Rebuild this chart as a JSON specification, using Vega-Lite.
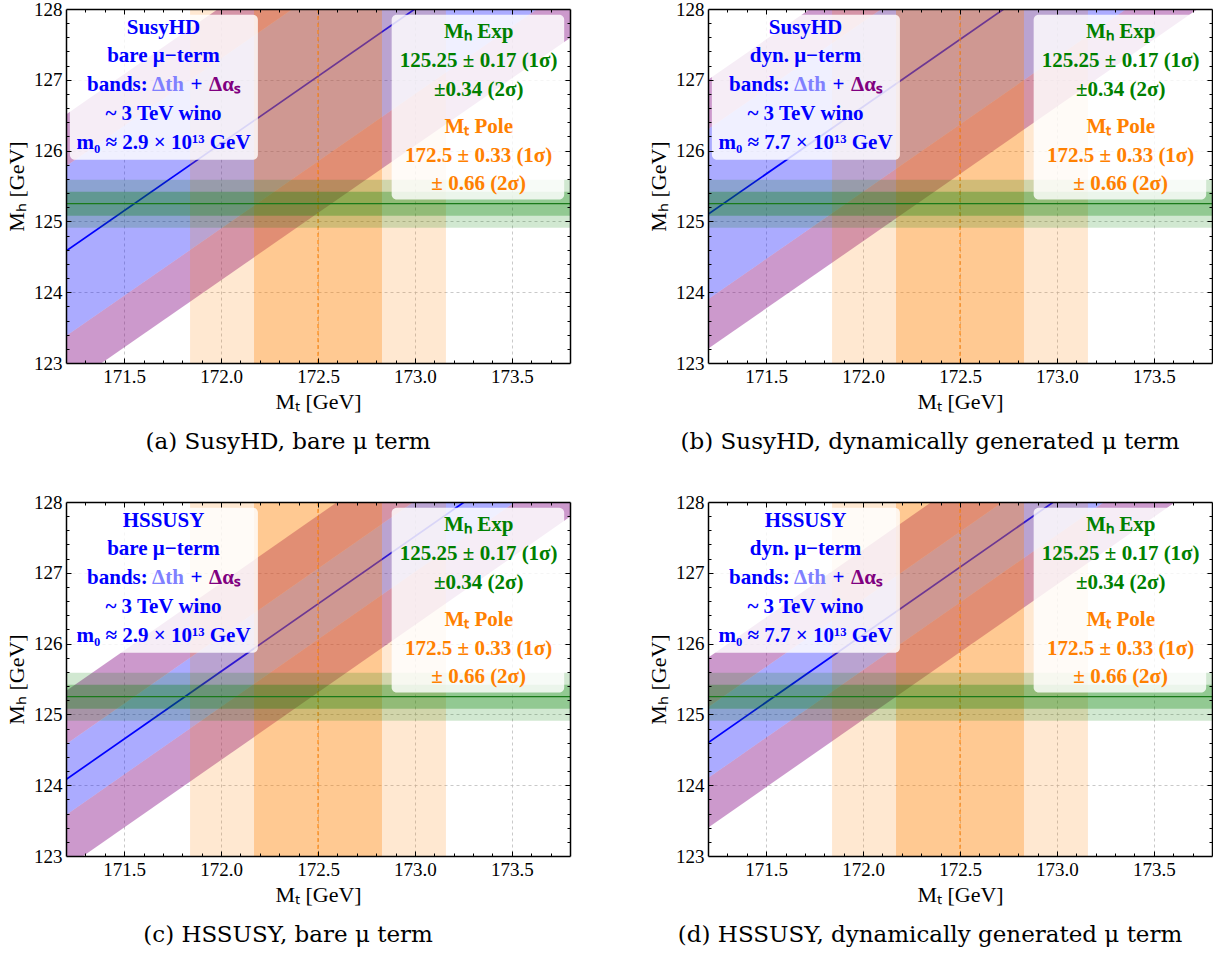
{
"$schema": "https://vega.github.io/schema/vega-lite/v6.json",
"background": "white",
"padding": {"left": 5, "top": 0, "right": 0, "bottom": 0},
"columns": 2,
"bounds": "flush",
"spacing": {"row": 139, "column": 138},
"datasets": {
"bands": [
{"panel": "a", "x": 171.2, "c": 124.58, "lop": 122.65, "lob": 123.38, "hib": 125.78, "hip": 126.51},
{"panel": "a", "x": 173.8, "c": 129.52, "lop": 127.59, "lob": 128.32, "hib": 130.72, "hip": 131.45},
{"panel": "b", "x": 171.2, "c": 125.10, "lop": 123.20, "lob": 123.90, "hib": 126.30, "hip": 127.00},
{"panel": "b", "x": 173.8, "c": 130.04, "lop": 128.14, "lob": 128.84, "hib": 131.24, "hip": 131.94},
{"panel": "c", "x": 171.2, "c": 124.08, "lop": 122.83, "lob": 123.58, "hib": 124.58, "hip": 125.33},
{"panel": "c", "x": 173.8, "c": 129.04, "lop": 127.79, "lob": 128.54, "hib": 129.54, "hip": 130.29},
{"panel": "d", "x": 171.2, "c": 124.60, "lop": 123.40, "lob": 124.10, "hib": 125.10, "hip": 125.80},
{"panel": "d", "x": 173.8, "c": 129.56, "lop": 128.36, "lob": 129.06, "hib": 130.06, "hip": 130.76}
],
"mt": [{"sigma": "2σ", "lo": 171.84, "hi": 173.16}, {"sigma": "1σ", "lo": 172.17, "hi": 172.83}],
"mh": [{"sigma": "2σ", "lo": 124.91, "hi": 125.59}, {"sigma": "1σ", "lo": 125.08, "hi": 125.42}],
"center": [{"mt": 172.5, "mh": 125.25}],
"boxes": [{"x": 171.22, "x2": 172.19, "y": 125.87, "y2": 127.92}, {"x": 172.88, "x2": 173.77, "y": 125.31, "y2": 127.92}],
"rtext": [
{"x": 171.465, "y": 126.93, "t": "bands:", "role": "model"},
{"x": 171.726, "y": 126.93, "t": "Δth", "role": "th"},
{"x": 171.873, "y": 126.93, "t": "+", "role": "model"},
{"x": 172.02, "y": 126.93, "t": "Δαₛ", "role": "as"},
{"x": 171.703, "y": 126.52, "t": "~ 3 TeV wino", "role": "model"},
{"x": 173.329, "y": 127.67, "t": "Mₕ Exp", "role": "exp"},
{"x": 173.329, "y": 127.27, "t": "125.25 ± 0.17 (1σ)", "role": "exp"},
{"x": 173.329, "y": 126.86, "t": "±0.34 (2σ)", "role": "exp"},
{"x": 173.329, "y": 126.34, "t": "Mₜ Pole", "role": "pole"},
{"x": 173.329, "y": 125.93, "t": "172.5 ± 0.33 (1σ)", "role": "pole"},
{"x": 173.329, "y": 125.53, "t": "± 0.66 (2σ)", "role": "pole"}
],
"ltext": [
{"panel": "a", "x": 171.703, "y": 127.73, "t": "SusyHD", "role": "model"},
{"panel": "a", "x": 171.703, "y": 127.33, "t": "bare μ−term", "role": "model"},
{"panel": "a", "x": 171.703, "y": 126.11, "t": "m₀ ≈ 2.9 × 10¹³ GeV", "role": "model"},
{"panel": "b", "x": 171.703, "y": 127.73, "t": "SusyHD", "role": "model"},
{"panel": "b", "x": 171.703, "y": 127.33, "t": "dyn. μ−term", "role": "model"},
{"panel": "b", "x": 171.703, "y": 126.11, "t": "m₀ ≈ 7.7 × 10¹³ GeV", "role": "model"},
{"panel": "c", "x": 171.703, "y": 127.73, "t": "HSSUSY", "role": "model"},
{"panel": "c", "x": 171.703, "y": 127.33, "t": "bare μ−term", "role": "model"},
{"panel": "c", "x": 171.703, "y": 126.11, "t": "m₀ ≈ 2.9 × 10¹³ GeV", "role": "model"},
{"panel": "d", "x": 171.703, "y": 127.73, "t": "HSSUSY", "role": "model"},
{"panel": "d", "x": 171.703, "y": 127.33, "t": "dyn. μ−term", "role": "model"},
{"panel": "d", "x": 171.703, "y": 126.11, "t": "m₀ ≈ 7.7 × 10¹³ GeV", "role": "model"}
]
},
"concat": [
{
"width": 504, "height": 354,
"title": {"text": "(a) SusyHD, bare μ term", "orient": "bottom", "anchor": "middle", "frame": "bounds", "font": "DejaVu Serif", "fontSize": 23, "fontWeight": "normal", "color": "black", "offset": 19},
"resolve": {"axis": {"x": "independent", "y": "independent"}},
"layer": [
{"data": {"name": "bands"}, "transform": [{"filter": "datum.panel === 'a'"}], "mark": {"type": "area", "color": "#800080", "opacity": 0.4, "clip": true},
"encoding": {"x": {"field": "x", "type": "quantitative", "scale": {"domain": [171.2, 173.8], "nice": false, "zero": false}, "axis": {"orient": "bottom", "values": [171.5, 172, 172.5, 173, 173.5], "grid": true, "gridDash": [3, 3], "gridColor": "#bbbbbb", "gridWidth": 0.8, "ticks": false, "labels": false, "domain": false, "title": null, "zindex": 0}},
"y": {"field": "lop", "type": "quantitative", "scale": {"domain": [123, 128], "nice": false, "zero": false}, "axis": {"orient": "left", "values": [124, 125, 126, 127], "grid": true, "gridDash": [3, 3], "gridColor": "#bbbbbb", "gridWidth": 0.8, "ticks": false, "labels": false, "domain": false, "title": null, "zindex": 0}},
"y2": {"field": "lob"}}},
{"data": {"name": "bands"}, "transform": [{"filter": "datum.panel === 'a'"}], "mark": {"type": "area", "color": "#0000ff", "opacity": 0.33, "clip": true},
"encoding": {"x": {"field": "x", "type": "quantitative", "scale": {"domain": [171.2, 173.8], "nice": false, "zero": false}, "axis": {"orient": "bottom", "values": [171.5, 172, 172.5, 173, 173.5], "format": ".1f", "grid": false, "ticks": false, "labels": true, "labelFont": "Liberation Serif", "labelFontSize": 19, "labelColor": "black", "labelPadding": 4, "labelFlush": false, "labelOverlap": false, "domain": true, "domainColor": "black", "domainWidth": 1.5, "title": "Mₜ [GeV]", "titleFont": "Liberation Serif", "titleFontSize": 22, "titleFontWeight": "normal", "titleColor": "black", "titlePadding": 5, "zindex": 2}},
"y": {"field": "lob", "type": "quantitative", "scale": {"domain": [123, 128], "nice": false, "zero": false}, "axis": {"orient": "left", "values": [123, 124, 125, 126, 127, 128], "format": "d", "grid": false, "ticks": false, "labels": true, "labelFont": "Liberation Serif", "labelFontSize": 19, "labelColor": "black", "labelPadding": 4, "labelFlush": false, "labelOverlap": false, "domain": true, "domainColor": "black", "domainWidth": 1.5, "title": "Mₕ [GeV]", "titleFont": "Liberation Serif", "titleFontSize": 22, "titleFontWeight": "normal", "titleColor": "black", "titlePadding": 5, "zindex": 2}},
"y2": {"field": "hib"}}},
{"data": {"name": "bands"}, "transform": [{"filter": "datum.panel === 'a'"}], "mark": {"type": "area", "color": "#800080", "opacity": 0.4, "clip": true},
"encoding": {"x": {"field": "x", "type": "quantitative", "scale": {"domain": [171.2, 173.8], "nice": false, "zero": false}, "axis": {"orient": "bottom", "values": [171.5, 172, 172.5, 173, 173.5], "grid": false, "ticks": true, "tickSize": -5, "tickColor": "black", "tickWidth": 1, "labels": false, "domain": false, "title": null, "zindex": 2}},
"y": {"field": "hib", "type": "quantitative", "scale": {"domain": [123, 128], "nice": false, "zero": false}, "axis": {"orient": "left", "values": [124, 125, 126, 127], "grid": false, "ticks": true, "tickSize": -5, "tickColor": "black", "tickWidth": 1, "labels": false, "domain": false, "title": null, "zindex": 2}},
"y2": {"field": "hip"}}},
{"data": {"name": "bands"}, "transform": [{"filter": "datum.panel === 'a'"}], "mark": {"type": "line", "color": "#0000ff", "strokeWidth": 1.7, "clip": true},
"encoding": {"x": {"field": "x", "type": "quantitative", "scale": {"domain": [171.2, 173.8], "nice": false, "zero": false}, "axis": {"orient": "bottom", "values": [171.3, 171.4, 171.6, 171.7, 171.8, 171.9, 172.1, 172.2, 172.3, 172.4, 172.6, 172.7, 172.8, 172.9, 173.1, 173.2, 173.3, 173.4, 173.6, 173.7], "grid": false, "ticks": true, "tickSize": -3, "tickColor": "black", "tickWidth": 1, "labels": false, "domain": false, "title": null, "zindex": 2}},
"y": {"field": "c", "type": "quantitative", "scale": {"domain": [123, 128], "nice": false, "zero": false}, "axis": {"orient": "left", "values": [123.2, 123.4, 123.6, 123.8, 124.2, 124.4, 124.6, 124.8, 125.2, 125.4, 125.6, 125.8, 126.2, 126.4, 126.6, 126.8, 127.2, 127.4, 127.6, 127.8], "grid": false, "ticks": true, "tickSize": -3, "tickColor": "black", "tickWidth": 1, "labels": false, "domain": false, "title": null, "zindex": 2}}}},
{"data": {"name": "mt"}, "mark": {"type": "rect", "color": "#ff8000"},
"encoding": {"x": {"field": "lo", "type": "quantitative", "scale": {"domain": [171.2, 173.8], "nice": false, "zero": false}, "axis": null}, "x2": {"field": "hi"}, "opacity": {"field": "sigma", "type": "ordinal", "scale": {"domain": ["1σ", "2σ"], "range": [0.3, 0.18]}, "legend": null}}},
{"data": {"name": "center"}, "mark": {"type": "rule", "color": "#ff8000", "strokeDash": [4, 3], "strokeWidth": 1},
"encoding": {"x": {"field": "mt", "type": "quantitative", "scale": {"domain": [171.2, 173.8], "nice": false, "zero": false}, "axis": null}}},
{"data": {"name": "mh"}, "mark": {"type": "rect", "color": "#008000"},
"encoding": {"y": {"field": "lo", "type": "quantitative", "scale": {"domain": [123, 128], "nice": false, "zero": false}, "axis": null}, "y2": {"field": "hi"}, "opacity": {"field": "sigma", "type": "ordinal", "scale": {"domain": ["1σ", "2σ"], "range": [0.3, 0.18]}, "legend": null}}},
{"data": {"name": "center"}, "mark": {"type": "rule", "color": "#1a7a1a", "strokeWidth": 1.3},
"encoding": {"y": {"field": "mh", "type": "quantitative", "scale": {"domain": [123, 128], "nice": false, "zero": false}, "axis": null}}},
{"data": {"name": "boxes"}, "mark": {"type": "rect", "fill": "white", "opacity": 0.82, "cornerRadius": 5},
"encoding": {"x": {"field": "x", "type": "quantitative", "scale": {"domain": [171.2, 173.8], "nice": false, "zero": false}, "axis": {"orient": "top", "values": [171.5, 172, 172.5, 173, 173.5], "grid": false, "ticks": true, "tickSize": -5, "tickColor": "black", "tickWidth": 1, "labels": false, "domain": true, "domainColor": "black", "domainWidth": 1.5, "title": null, "zindex": 2}}, "x2": {"field": "x2"},
"y": {"field": "y", "type": "quantitative", "scale": {"domain": [123, 128], "nice": false, "zero": false}, "axis": {"orient": "right", "values": [124, 125, 126, 127], "grid": false, "ticks": true, "tickSize": -5, "tickColor": "black", "tickWidth": 1, "labels": false, "domain": true, "domainColor": "black", "domainWidth": 1.5, "title": null, "zindex": 2}}, "y2": {"field": "y2"}}},
{"data": {"name": "rtext"}, "mark": {"type": "text", "font": "Liberation Serif", "fontWeight": "bold", "fontSize": 21, "baseline": "middle"},
"encoding": {"x": {"field": "x", "type": "quantitative", "scale": {"domain": [171.2, 173.8], "nice": false, "zero": false}, "axis": {"orient": "top", "values": [171.3, 171.4, 171.6, 171.7, 171.8, 171.9, 172.1, 172.2, 172.3, 172.4, 172.6, 172.7, 172.8, 172.9, 173.1, 173.2, 173.3, 173.4, 173.6, 173.7], "grid": false, "ticks": true, "tickSize": -3, "tickColor": "black", "tickWidth": 1, "labels": false, "domain": false, "title": null, "zindex": 2}},
"y": {"field": "y", "type": "quantitative", "scale": {"domain": [123, 128], "nice": false, "zero": false}, "axis": {"orient": "right", "values": [123.2, 123.4, 123.6, 123.8, 124.2, 124.4, 124.6, 124.8, 125.2, 125.4, 125.6, 125.8, 126.2, 126.4, 126.6, 126.8, 127.2, 127.4, 127.6, 127.8], "grid": false, "ticks": true, "tickSize": -3, "tickColor": "black", "tickWidth": 1, "labels": false, "domain": false, "title": null, "zindex": 2}},
"text": {"field": "t"}, "color": {"field": "role", "type": "nominal", "scale": {"domain": ["model", "th", "as", "exp", "pole"], "range": ["#0000ff", "#8080ff", "#800080", "#008000", "#ff8000"]}, "legend": null}}},
{"data": {"name": "ltext"}, "transform": [{"filter": "datum.panel === 'a'"}], "mark": {"type": "text", "font": "Liberation Serif", "fontWeight": "bold", "fontSize": 21, "baseline": "middle"},
"encoding": {"x": {"field": "x", "type": "quantitative", "scale": {"domain": [171.2, 173.8], "nice": false, "zero": false}, "axis": null}, "y": {"field": "y", "type": "quantitative", "scale": {"domain": [123, 128], "nice": false, "zero": false}, "axis": null}, "text": {"field": "t"}, "color": {"field": "role", "type": "nominal", "scale": {"domain": ["model", "th", "as", "exp", "pole"], "range": ["#0000ff", "#8080ff", "#800080", "#008000", "#ff8000"]}, "legend": null}}}
]
},
{
"width": 504, "height": 354,
"title": {"text": "(b) SusyHD, dynamically generated μ term", "orient": "bottom", "anchor": "middle", "frame": "bounds", "font": "DejaVu Serif", "fontSize": 23, "fontWeight": "normal", "color": "black", "offset": 19},
"resolve": {"axis": {"x": "independent", "y": "independent"}},
"layer": [
{"data": {"name": "bands"}, "transform": [{"filter": "datum.panel === 'b'"}], "mark": {"type": "area", "color": "#800080", "opacity": 0.4, "clip": true},
"encoding": {"x": {"field": "x", "type": "quantitative", "scale": {"domain": [171.2, 173.8], "nice": false, "zero": false}, "axis": {"orient": "bottom", "values": [171.5, 172, 172.5, 173, 173.5], "grid": true, "gridDash": [3, 3], "gridColor": "#bbbbbb", "gridWidth": 0.8, "ticks": false, "labels": false, "domain": false, "title": null, "zindex": 0}},
"y": {"field": "lop", "type": "quantitative", "scale": {"domain": [123, 128], "nice": false, "zero": false}, "axis": {"orient": "left", "values": [124, 125, 126, 127], "grid": true, "gridDash": [3, 3], "gridColor": "#bbbbbb", "gridWidth": 0.8, "ticks": false, "labels": false, "domain": false, "title": null, "zindex": 0}},
"y2": {"field": "lob"}}},
{"data": {"name": "bands"}, "transform": [{"filter": "datum.panel === 'b'"}], "mark": {"type": "area", "color": "#0000ff", "opacity": 0.33, "clip": true},
"encoding": {"x": {"field": "x", "type": "quantitative", "scale": {"domain": [171.2, 173.8], "nice": false, "zero": false}, "axis": {"orient": "bottom", "values": [171.5, 172, 172.5, 173, 173.5], "format": ".1f", "grid": false, "ticks": false, "labels": true, "labelFont": "Liberation Serif", "labelFontSize": 19, "labelColor": "black", "labelPadding": 4, "labelFlush": false, "labelOverlap": false, "domain": true, "domainColor": "black", "domainWidth": 1.5, "title": "Mₜ [GeV]", "titleFont": "Liberation Serif", "titleFontSize": 22, "titleFontWeight": "normal", "titleColor": "black", "titlePadding": 5, "zindex": 2}},
"y": {"field": "lob", "type": "quantitative", "scale": {"domain": [123, 128], "nice": false, "zero": false}, "axis": {"orient": "left", "values": [123, 124, 125, 126, 127, 128], "format": "d", "grid": false, "ticks": false, "labels": true, "labelFont": "Liberation Serif", "labelFontSize": 19, "labelColor": "black", "labelPadding": 4, "labelFlush": false, "labelOverlap": false, "domain": true, "domainColor": "black", "domainWidth": 1.5, "title": "Mₕ [GeV]", "titleFont": "Liberation Serif", "titleFontSize": 22, "titleFontWeight": "normal", "titleColor": "black", "titlePadding": 5, "zindex": 2}},
"y2": {"field": "hib"}}},
{"data": {"name": "bands"}, "transform": [{"filter": "datum.panel === 'b'"}], "mark": {"type": "area", "color": "#800080", "opacity": 0.4, "clip": true},
"encoding": {"x": {"field": "x", "type": "quantitative", "scale": {"domain": [171.2, 173.8], "nice": false, "zero": false}, "axis": {"orient": "bottom", "values": [171.5, 172, 172.5, 173, 173.5], "grid": false, "ticks": true, "tickSize": -5, "tickColor": "black", "tickWidth": 1, "labels": false, "domain": false, "title": null, "zindex": 2}},
"y": {"field": "hib", "type": "quantitative", "scale": {"domain": [123, 128], "nice": false, "zero": false}, "axis": {"orient": "left", "values": [124, 125, 126, 127], "grid": false, "ticks": true, "tickSize": -5, "tickColor": "black", "tickWidth": 1, "labels": false, "domain": false, "title": null, "zindex": 2}},
"y2": {"field": "hip"}}},
{"data": {"name": "bands"}, "transform": [{"filter": "datum.panel === 'b'"}], "mark": {"type": "line", "color": "#0000ff", "strokeWidth": 1.7, "clip": true},
"encoding": {"x": {"field": "x", "type": "quantitative", "scale": {"domain": [171.2, 173.8], "nice": false, "zero": false}, "axis": {"orient": "bottom", "values": [171.3, 171.4, 171.6, 171.7, 171.8, 171.9, 172.1, 172.2, 172.3, 172.4, 172.6, 172.7, 172.8, 172.9, 173.1, 173.2, 173.3, 173.4, 173.6, 173.7], "grid": false, "ticks": true, "tickSize": -3, "tickColor": "black", "tickWidth": 1, "labels": false, "domain": false, "title": null, "zindex": 2}},
"y": {"field": "c", "type": "quantitative", "scale": {"domain": [123, 128], "nice": false, "zero": false}, "axis": {"orient": "left", "values": [123.2, 123.4, 123.6, 123.8, 124.2, 124.4, 124.6, 124.8, 125.2, 125.4, 125.6, 125.8, 126.2, 126.4, 126.6, 126.8, 127.2, 127.4, 127.6, 127.8], "grid": false, "ticks": true, "tickSize": -3, "tickColor": "black", "tickWidth": 1, "labels": false, "domain": false, "title": null, "zindex": 2}}}},
{"data": {"name": "mt"}, "mark": {"type": "rect", "color": "#ff8000"},
"encoding": {"x": {"field": "lo", "type": "quantitative", "scale": {"domain": [171.2, 173.8], "nice": false, "zero": false}, "axis": null}, "x2": {"field": "hi"}, "opacity": {"field": "sigma", "type": "ordinal", "scale": {"domain": ["1σ", "2σ"], "range": [0.3, 0.18]}, "legend": null}}},
{"data": {"name": "center"}, "mark": {"type": "rule", "color": "#ff8000", "strokeDash": [4, 3], "strokeWidth": 1},
"encoding": {"x": {"field": "mt", "type": "quantitative", "scale": {"domain": [171.2, 173.8], "nice": false, "zero": false}, "axis": null}}},
{"data": {"name": "mh"}, "mark": {"type": "rect", "color": "#008000"},
"encoding": {"y": {"field": "lo", "type": "quantitative", "scale": {"domain": [123, 128], "nice": false, "zero": false}, "axis": null}, "y2": {"field": "hi"}, "opacity": {"field": "sigma", "type": "ordinal", "scale": {"domain": ["1σ", "2σ"], "range": [0.3, 0.18]}, "legend": null}}},
{"data": {"name": "center"}, "mark": {"type": "rule", "color": "#1a7a1a", "strokeWidth": 1.3},
"encoding": {"y": {"field": "mh", "type": "quantitative", "scale": {"domain": [123, 128], "nice": false, "zero": false}, "axis": null}}},
{"data": {"name": "boxes"}, "mark": {"type": "rect", "fill": "white", "opacity": 0.82, "cornerRadius": 5},
"encoding": {"x": {"field": "x", "type": "quantitative", "scale": {"domain": [171.2, 173.8], "nice": false, "zero": false}, "axis": {"orient": "top", "values": [171.5, 172, 172.5, 173, 173.5], "grid": false, "ticks": true, "tickSize": -5, "tickColor": "black", "tickWidth": 1, "labels": false, "domain": true, "domainColor": "black", "domainWidth": 1.5, "title": null, "zindex": 2}}, "x2": {"field": "x2"},
"y": {"field": "y", "type": "quantitative", "scale": {"domain": [123, 128], "nice": false, "zero": false}, "axis": {"orient": "right", "values": [124, 125, 126, 127], "grid": false, "ticks": true, "tickSize": -5, "tickColor": "black", "tickWidth": 1, "labels": false, "domain": true, "domainColor": "black", "domainWidth": 1.5, "title": null, "zindex": 2}}, "y2": {"field": "y2"}}},
{"data": {"name": "rtext"}, "mark": {"type": "text", "font": "Liberation Serif", "fontWeight": "bold", "fontSize": 21, "baseline": "middle"},
"encoding": {"x": {"field": "x", "type": "quantitative", "scale": {"domain": [171.2, 173.8], "nice": false, "zero": false}, "axis": {"orient": "top", "values": [171.3, 171.4, 171.6, 171.7, 171.8, 171.9, 172.1, 172.2, 172.3, 172.4, 172.6, 172.7, 172.8, 172.9, 173.1, 173.2, 173.3, 173.4, 173.6, 173.7], "grid": false, "ticks": true, "tickSize": -3, "tickColor": "black", "tickWidth": 1, "labels": false, "domain": false, "title": null, "zindex": 2}},
"y": {"field": "y", "type": "quantitative", "scale": {"domain": [123, 128], "nice": false, "zero": false}, "axis": {"orient": "right", "values": [123.2, 123.4, 123.6, 123.8, 124.2, 124.4, 124.6, 124.8, 125.2, 125.4, 125.6, 125.8, 126.2, 126.4, 126.6, 126.8, 127.2, 127.4, 127.6, 127.8], "grid": false, "ticks": true, "tickSize": -3, "tickColor": "black", "tickWidth": 1, "labels": false, "domain": false, "title": null, "zindex": 2}},
"text": {"field": "t"}, "color": {"field": "role", "type": "nominal", "scale": {"domain": ["model", "th", "as", "exp", "pole"], "range": ["#0000ff", "#8080ff", "#800080", "#008000", "#ff8000"]}, "legend": null}}},
{"data": {"name": "ltext"}, "transform": [{"filter": "datum.panel === 'b'"}], "mark": {"type": "text", "font": "Liberation Serif", "fontWeight": "bold", "fontSize": 21, "baseline": "middle"},
"encoding": {"x": {"field": "x", "type": "quantitative", "scale": {"domain": [171.2, 173.8], "nice": false, "zero": false}, "axis": null}, "y": {"field": "y", "type": "quantitative", "scale": {"domain": [123, 128], "nice": false, "zero": false}, "axis": null}, "text": {"field": "t"}, "color": {"field": "role", "type": "nominal", "scale": {"domain": ["model", "th", "as", "exp", "pole"], "range": ["#0000ff", "#8080ff", "#800080", "#008000", "#ff8000"]}, "legend": null}}}
]
},
{
"width": 504, "height": 354,
"title": {"text": "(c) HSSUSY, bare μ term", "orient": "bottom", "anchor": "middle", "frame": "bounds", "font": "DejaVu Serif", "fontSize": 23, "fontWeight": "normal", "color": "black", "offset": 19},
"resolve": {"axis": {"x": "independent", "y": "independent"}},
"layer": [
{"data": {"name": "bands"}, "transform": [{"filter": "datum.panel === 'c'"}], "mark": {"type": "area", "color": "#800080", "opacity": 0.4, "clip": true},
"encoding": {"x": {"field": "x", "type": "quantitative", "scale": {"domain": [171.2, 173.8], "nice": false, "zero": false}, "axis": {"orient": "bottom", "values": [171.5, 172, 172.5, 173, 173.5], "grid": true, "gridDash": [3, 3], "gridColor": "#bbbbbb", "gridWidth": 0.8, "ticks": false, "labels": false, "domain": false, "title": null, "zindex": 0}},
"y": {"field": "lop", "type": "quantitative", "scale": {"domain": [123, 128], "nice": false, "zero": false}, "axis": {"orient": "left", "values": [124, 125, 126, 127], "grid": true, "gridDash": [3, 3], "gridColor": "#bbbbbb", "gridWidth": 0.8, "ticks": false, "labels": false, "domain": false, "title": null, "zindex": 0}},
"y2": {"field": "lob"}}},
{"data": {"name": "bands"}, "transform": [{"filter": "datum.panel === 'c'"}], "mark": {"type": "area", "color": "#0000ff", "opacity": 0.33, "clip": true},
"encoding": {"x": {"field": "x", "type": "quantitative", "scale": {"domain": [171.2, 173.8], "nice": false, "zero": false}, "axis": {"orient": "bottom", "values": [171.5, 172, 172.5, 173, 173.5], "format": ".1f", "grid": false, "ticks": false, "labels": true, "labelFont": "Liberation Serif", "labelFontSize": 19, "labelColor": "black", "labelPadding": 4, "labelFlush": false, "labelOverlap": false, "domain": true, "domainColor": "black", "domainWidth": 1.5, "title": "Mₜ [GeV]", "titleFont": "Liberation Serif", "titleFontSize": 22, "titleFontWeight": "normal", "titleColor": "black", "titlePadding": 5, "zindex": 2}},
"y": {"field": "lob", "type": "quantitative", "scale": {"domain": [123, 128], "nice": false, "zero": false}, "axis": {"orient": "left", "values": [123, 124, 125, 126, 127, 128], "format": "d", "grid": false, "ticks": false, "labels": true, "labelFont": "Liberation Serif", "labelFontSize": 19, "labelColor": "black", "labelPadding": 4, "labelFlush": false, "labelOverlap": false, "domain": true, "domainColor": "black", "domainWidth": 1.5, "title": "Mₕ [GeV]", "titleFont": "Liberation Serif", "titleFontSize": 22, "titleFontWeight": "normal", "titleColor": "black", "titlePadding": 5, "zindex": 2}},
"y2": {"field": "hib"}}},
{"data": {"name": "bands"}, "transform": [{"filter": "datum.panel === 'c'"}], "mark": {"type": "area", "color": "#800080", "opacity": 0.4, "clip": true},
"encoding": {"x": {"field": "x", "type": "quantitative", "scale": {"domain": [171.2, 173.8], "nice": false, "zero": false}, "axis": {"orient": "bottom", "values": [171.5, 172, 172.5, 173, 173.5], "grid": false, "ticks": true, "tickSize": -5, "tickColor": "black", "tickWidth": 1, "labels": false, "domain": false, "title": null, "zindex": 2}},
"y": {"field": "hib", "type": "quantitative", "scale": {"domain": [123, 128], "nice": false, "zero": false}, "axis": {"orient": "left", "values": [124, 125, 126, 127], "grid": false, "ticks": true, "tickSize": -5, "tickColor": "black", "tickWidth": 1, "labels": false, "domain": false, "title": null, "zindex": 2}},
"y2": {"field": "hip"}}},
{"data": {"name": "bands"}, "transform": [{"filter": "datum.panel === 'c'"}], "mark": {"type": "line", "color": "#0000ff", "strokeWidth": 1.7, "clip": true},
"encoding": {"x": {"field": "x", "type": "quantitative", "scale": {"domain": [171.2, 173.8], "nice": false, "zero": false}, "axis": {"orient": "bottom", "values": [171.3, 171.4, 171.6, 171.7, 171.8, 171.9, 172.1, 172.2, 172.3, 172.4, 172.6, 172.7, 172.8, 172.9, 173.1, 173.2, 173.3, 173.4, 173.6, 173.7], "grid": false, "ticks": true, "tickSize": -3, "tickColor": "black", "tickWidth": 1, "labels": false, "domain": false, "title": null, "zindex": 2}},
"y": {"field": "c", "type": "quantitative", "scale": {"domain": [123, 128], "nice": false, "zero": false}, "axis": {"orient": "left", "values": [123.2, 123.4, 123.6, 123.8, 124.2, 124.4, 124.6, 124.8, 125.2, 125.4, 125.6, 125.8, 126.2, 126.4, 126.6, 126.8, 127.2, 127.4, 127.6, 127.8], "grid": false, "ticks": true, "tickSize": -3, "tickColor": "black", "tickWidth": 1, "labels": false, "domain": false, "title": null, "zindex": 2}}}},
{"data": {"name": "mt"}, "mark": {"type": "rect", "color": "#ff8000"},
"encoding": {"x": {"field": "lo", "type": "quantitative", "scale": {"domain": [171.2, 173.8], "nice": false, "zero": false}, "axis": null}, "x2": {"field": "hi"}, "opacity": {"field": "sigma", "type": "ordinal", "scale": {"domain": ["1σ", "2σ"], "range": [0.3, 0.18]}, "legend": null}}},
{"data": {"name": "center"}, "mark": {"type": "rule", "color": "#ff8000", "strokeDash": [4, 3], "strokeWidth": 1},
"encoding": {"x": {"field": "mt", "type": "quantitative", "scale": {"domain": [171.2, 173.8], "nice": false, "zero": false}, "axis": null}}},
{"data": {"name": "mh"}, "mark": {"type": "rect", "color": "#008000"},
"encoding": {"y": {"field": "lo", "type": "quantitative", "scale": {"domain": [123, 128], "nice": false, "zero": false}, "axis": null}, "y2": {"field": "hi"}, "opacity": {"field": "sigma", "type": "ordinal", "scale": {"domain": ["1σ", "2σ"], "range": [0.3, 0.18]}, "legend": null}}},
{"data": {"name": "center"}, "mark": {"type": "rule", "color": "#1a7a1a", "strokeWidth": 1.3},
"encoding": {"y": {"field": "mh", "type": "quantitative", "scale": {"domain": [123, 128], "nice": false, "zero": false}, "axis": null}}},
{"data": {"name": "boxes"}, "mark": {"type": "rect", "fill": "white", "opacity": 0.82, "cornerRadius": 5},
"encoding": {"x": {"field": "x", "type": "quantitative", "scale": {"domain": [171.2, 173.8], "nice": false, "zero": false}, "axis": {"orient": "top", "values": [171.5, 172, 172.5, 173, 173.5], "grid": false, "ticks": true, "tickSize": -5, "tickColor": "black", "tickWidth": 1, "labels": false, "domain": true, "domainColor": "black", "domainWidth": 1.5, "title": null, "zindex": 2}}, "x2": {"field": "x2"},
"y": {"field": "y", "type": "quantitative", "scale": {"domain": [123, 128], "nice": false, "zero": false}, "axis": {"orient": "right", "values": [124, 125, 126, 127], "grid": false, "ticks": true, "tickSize": -5, "tickColor": "black", "tickWidth": 1, "labels": false, "domain": true, "domainColor": "black", "domainWidth": 1.5, "title": null, "zindex": 2}}, "y2": {"field": "y2"}}},
{"data": {"name": "rtext"}, "mark": {"type": "text", "font": "Liberation Serif", "fontWeight": "bold", "fontSize": 21, "baseline": "middle"},
"encoding": {"x": {"field": "x", "type": "quantitative", "scale": {"domain": [171.2, 173.8], "nice": false, "zero": false}, "axis": {"orient": "top", "values": [171.3, 171.4, 171.6, 171.7, 171.8, 171.9, 172.1, 172.2, 172.3, 172.4, 172.6, 172.7, 172.8, 172.9, 173.1, 173.2, 173.3, 173.4, 173.6, 173.7], "grid": false, "ticks": true, "tickSize": -3, "tickColor": "black", "tickWidth": 1, "labels": false, "domain": false, "title": null, "zindex": 2}},
"y": {"field": "y", "type": "quantitative", "scale": {"domain": [123, 128], "nice": false, "zero": false}, "axis": {"orient": "right", "values": [123.2, 123.4, 123.6, 123.8, 124.2, 124.4, 124.6, 124.8, 125.2, 125.4, 125.6, 125.8, 126.2, 126.4, 126.6, 126.8, 127.2, 127.4, 127.6, 127.8], "grid": false, "ticks": true, "tickSize": -3, "tickColor": "black", "tickWidth": 1, "labels": false, "domain": false, "title": null, "zindex": 2}},
"text": {"field": "t"}, "color": {"field": "role", "type": "nominal", "scale": {"domain": ["model", "th", "as", "exp", "pole"], "range": ["#0000ff", "#8080ff", "#800080", "#008000", "#ff8000"]}, "legend": null}}},
{"data": {"name": "ltext"}, "transform": [{"filter": "datum.panel === 'c'"}], "mark": {"type": "text", "font": "Liberation Serif", "fontWeight": "bold", "fontSize": 21, "baseline": "middle"},
"encoding": {"x": {"field": "x", "type": "quantitative", "scale": {"domain": [171.2, 173.8], "nice": false, "zero": false}, "axis": null}, "y": {"field": "y", "type": "quantitative", "scale": {"domain": [123, 128], "nice": false, "zero": false}, "axis": null}, "text": {"field": "t"}, "color": {"field": "role", "type": "nominal", "scale": {"domain": ["model", "th", "as", "exp", "pole"], "range": ["#0000ff", "#8080ff", "#800080", "#008000", "#ff8000"]}, "legend": null}}}
]
},
{
"width": 504, "height": 354,
"title": {"text": "(d) HSSUSY, dynamically generated μ term", "orient": "bottom", "anchor": "middle", "frame": "bounds", "font": "DejaVu Serif", "fontSize": 23, "fontWeight": "normal", "color": "black", "offset": 19},
"resolve": {"axis": {"x": "independent", "y": "independent"}},
"layer": [
{"data": {"name": "bands"}, "transform": [{"filter": "datum.panel === 'd'"}], "mark": {"type": "area", "color": "#800080", "opacity": 0.4, "clip": true},
"encoding": {"x": {"field": "x", "type": "quantitative", "scale": {"domain": [171.2, 173.8], "nice": false, "zero": false}, "axis": {"orient": "bottom", "values": [171.5, 172, 172.5, 173, 173.5], "grid": true, "gridDash": [3, 3], "gridColor": "#bbbbbb", "gridWidth": 0.8, "ticks": false, "labels": false, "domain": false, "title": null, "zindex": 0}},
"y": {"field": "lop", "type": "quantitative", "scale": {"domain": [123, 128], "nice": false, "zero": false}, "axis": {"orient": "left", "values": [124, 125, 126, 127], "grid": true, "gridDash": [3, 3], "gridColor": "#bbbbbb", "gridWidth": 0.8, "ticks": false, "labels": false, "domain": false, "title": null, "zindex": 0}},
"y2": {"field": "lob"}}},
{"data": {"name": "bands"}, "transform": [{"filter": "datum.panel === 'd'"}], "mark": {"type": "area", "color": "#0000ff", "opacity": 0.33, "clip": true},
"encoding": {"x": {"field": "x", "type": "quantitative", "scale": {"domain": [171.2, 173.8], "nice": false, "zero": false}, "axis": {"orient": "bottom", "values": [171.5, 172, 172.5, 173, 173.5], "format": ".1f", "grid": false, "ticks": false, "labels": true, "labelFont": "Liberation Serif", "labelFontSize": 19, "labelColor": "black", "labelPadding": 4, "labelFlush": false, "labelOverlap": false, "domain": true, "domainColor": "black", "domainWidth": 1.5, "title": "Mₜ [GeV]", "titleFont": "Liberation Serif", "titleFontSize": 22, "titleFontWeight": "normal", "titleColor": "black", "titlePadding": 5, "zindex": 2}},
"y": {"field": "lob", "type": "quantitative", "scale": {"domain": [123, 128], "nice": false, "zero": false}, "axis": {"orient": "left", "values": [123, 124, 125, 126, 127, 128], "format": "d", "grid": false, "ticks": false, "labels": true, "labelFont": "Liberation Serif", "labelFontSize": 19, "labelColor": "black", "labelPadding": 4, "labelFlush": false, "labelOverlap": false, "domain": true, "domainColor": "black", "domainWidth": 1.5, "title": "Mₕ [GeV]", "titleFont": "Liberation Serif", "titleFontSize": 22, "titleFontWeight": "normal", "titleColor": "black", "titlePadding": 5, "zindex": 2}},
"y2": {"field": "hib"}}},
{"data": {"name": "bands"}, "transform": [{"filter": "datum.panel === 'd'"}], "mark": {"type": "area", "color": "#800080", "opacity": 0.4, "clip": true},
"encoding": {"x": {"field": "x", "type": "quantitative", "scale": {"domain": [171.2, 173.8], "nice": false, "zero": false}, "axis": {"orient": "bottom", "values": [171.5, 172, 172.5, 173, 173.5], "grid": false, "ticks": true, "tickSize": -5, "tickColor": "black", "tickWidth": 1, "labels": false, "domain": false, "title": null, "zindex": 2}},
"y": {"field": "hib", "type": "quantitative", "scale": {"domain": [123, 128], "nice": false, "zero": false}, "axis": {"orient": "left", "values": [124, 125, 126, 127], "grid": false, "ticks": true, "tickSize": -5, "tickColor": "black", "tickWidth": 1, "labels": false, "domain": false, "title": null, "zindex": 2}},
"y2": {"field": "hip"}}},
{"data": {"name": "bands"}, "transform": [{"filter": "datum.panel === 'd'"}], "mark": {"type": "line", "color": "#0000ff", "strokeWidth": 1.7, "clip": true},
"encoding": {"x": {"field": "x", "type": "quantitative", "scale": {"domain": [171.2, 173.8], "nice": false, "zero": false}, "axis": {"orient": "bottom", "values": [171.3, 171.4, 171.6, 171.7, 171.8, 171.9, 172.1, 172.2, 172.3, 172.4, 172.6, 172.7, 172.8, 172.9, 173.1, 173.2, 173.3, 173.4, 173.6, 173.7], "grid": false, "ticks": true, "tickSize": -3, "tickColor": "black", "tickWidth": 1, "labels": false, "domain": false, "title": null, "zindex": 2}},
"y": {"field": "c", "type": "quantitative", "scale": {"domain": [123, 128], "nice": false, "zero": false}, "axis": {"orient": "left", "values": [123.2, 123.4, 123.6, 123.8, 124.2, 124.4, 124.6, 124.8, 125.2, 125.4, 125.6, 125.8, 126.2, 126.4, 126.6, 126.8, 127.2, 127.4, 127.6, 127.8], "grid": false, "ticks": true, "tickSize": -3, "tickColor": "black", "tickWidth": 1, "labels": false, "domain": false, "title": null, "zindex": 2}}}},
{"data": {"name": "mt"}, "mark": {"type": "rect", "color": "#ff8000"},
"encoding": {"x": {"field": "lo", "type": "quantitative", "scale": {"domain": [171.2, 173.8], "nice": false, "zero": false}, "axis": null}, "x2": {"field": "hi"}, "opacity": {"field": "sigma", "type": "ordinal", "scale": {"domain": ["1σ", "2σ"], "range": [0.3, 0.18]}, "legend": null}}},
{"data": {"name": "center"}, "mark": {"type": "rule", "color": "#ff8000", "strokeDash": [4, 3], "strokeWidth": 1},
"encoding": {"x": {"field": "mt", "type": "quantitative", "scale": {"domain": [171.2, 173.8], "nice": false, "zero": false}, "axis": null}}},
{"data": {"name": "mh"}, "mark": {"type": "rect", "color": "#008000"},
"encoding": {"y": {"field": "lo", "type": "quantitative", "scale": {"domain": [123, 128], "nice": false, "zero": false}, "axis": null}, "y2": {"field": "hi"}, "opacity": {"field": "sigma", "type": "ordinal", "scale": {"domain": ["1σ", "2σ"], "range": [0.3, 0.18]}, "legend": null}}},
{"data": {"name": "center"}, "mark": {"type": "rule", "color": "#1a7a1a", "strokeWidth": 1.3},
"encoding": {"y": {"field": "mh", "type": "quantitative", "scale": {"domain": [123, 128], "nice": false, "zero": false}, "axis": null}}},
{"data": {"name": "boxes"}, "mark": {"type": "rect", "fill": "white", "opacity": 0.82, "cornerRadius": 5},
"encoding": {"x": {"field": "x", "type": "quantitative", "scale": {"domain": [171.2, 173.8], "nice": false, "zero": false}, "axis": {"orient": "top", "values": [171.5, 172, 172.5, 173, 173.5], "grid": false, "ticks": true, "tickSize": -5, "tickColor": "black", "tickWidth": 1, "labels": false, "domain": true, "domainColor": "black", "domainWidth": 1.5, "title": null, "zindex": 2}}, "x2": {"field": "x2"},
"y": {"field": "y", "type": "quantitative", "scale": {"domain": [123, 128], "nice": false, "zero": false}, "axis": {"orient": "right", "values": [124, 125, 126, 127], "grid": false, "ticks": true, "tickSize": -5, "tickColor": "black", "tickWidth": 1, "labels": false, "domain": true, "domainColor": "black", "domainWidth": 1.5, "title": null, "zindex": 2}}, "y2": {"field": "y2"}}},
{"data": {"name": "rtext"}, "mark": {"type": "text", "font": "Liberation Serif", "fontWeight": "bold", "fontSize": 21, "baseline": "middle"},
"encoding": {"x": {"field": "x", "type": "quantitative", "scale": {"domain": [171.2, 173.8], "nice": false, "zero": false}, "axis": {"orient": "top", "values": [171.3, 171.4, 171.6, 171.7, 171.8, 171.9, 172.1, 172.2, 172.3, 172.4, 172.6, 172.7, 172.8, 172.9, 173.1, 173.2, 173.3, 173.4, 173.6, 173.7], "grid": false, "ticks": true, "tickSize": -3, "tickColor": "black", "tickWidth": 1, "labels": false, "domain": false, "title": null, "zindex": 2}},
"y": {"field": "y", "type": "quantitative", "scale": {"domain": [123, 128], "nice": false, "zero": false}, "axis": {"orient": "right", "values": [123.2, 123.4, 123.6, 123.8, 124.2, 124.4, 124.6, 124.8, 125.2, 125.4, 125.6, 125.8, 126.2, 126.4, 126.6, 126.8, 127.2, 127.4, 127.6, 127.8], "grid": false, "ticks": true, "tickSize": -3, "tickColor": "black", "tickWidth": 1, "labels": false, "domain": false, "title": null, "zindex": 2}},
"text": {"field": "t"}, "color": {"field": "role", "type": "nominal", "scale": {"domain": ["model", "th", "as", "exp", "pole"], "range": ["#0000ff", "#8080ff", "#800080", "#008000", "#ff8000"]}, "legend": null}}},
{"data": {"name": "ltext"}, "transform": [{"filter": "datum.panel === 'd'"}], "mark": {"type": "text", "font": "Liberation Serif", "fontWeight": "bold", "fontSize": 21, "baseline": "middle"},
"encoding": {"x": {"field": "x", "type": "quantitative", "scale": {"domain": [171.2, 173.8], "nice": false, "zero": false}, "axis": null}, "y": {"field": "y", "type": "quantitative", "scale": {"domain": [123, 128], "nice": false, "zero": false}, "axis": null}, "text": {"field": "t"}, "color": {"field": "role", "type": "nominal", "scale": {"domain": ["model", "th", "as", "exp", "pole"], "range": ["#0000ff", "#8080ff", "#800080", "#008000", "#ff8000"]}, "legend": null}}}
]
}
],
"config": {
"view": {"stroke": null},
"axis": {"labelFont": "Liberation Serif", "labelFontSize": 19, "labelColor": "black", "titleFont": "Liberation Serif", "titleFontSize": 22, "titleFontWeight": "normal", "titleColor": "black"}
}
}
